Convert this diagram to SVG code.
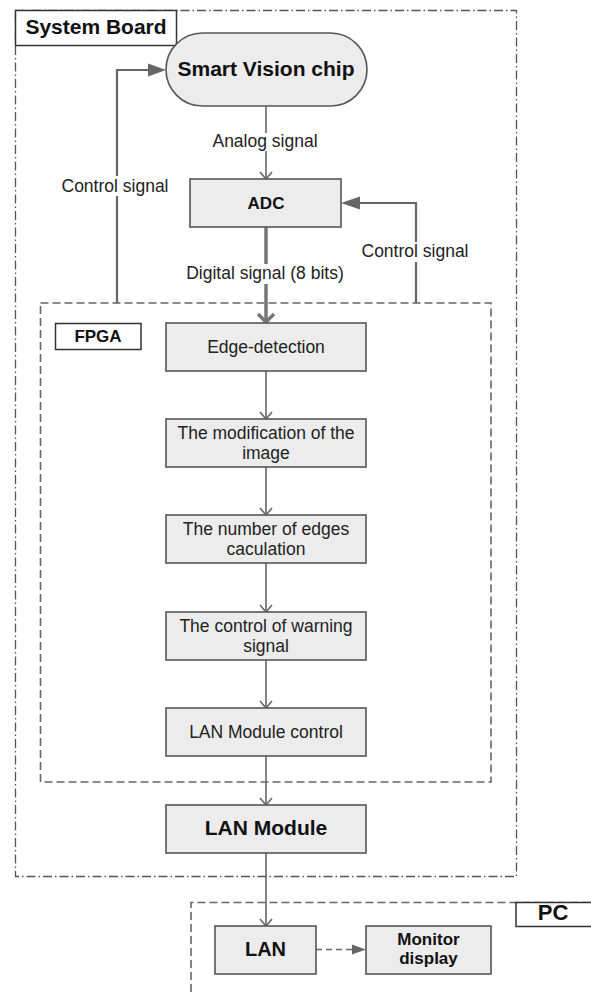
<svg xmlns="http://www.w3.org/2000/svg" width="591" height="992" viewBox="0 0 591 992">
<style>
  .box { fill: #ececec; stroke: #555; stroke-width: 1.6; }
  .lbl { fill: #fff; stroke: #333; stroke-width: 1.5; }
  .t { font-family: "Liberation Sans", Arial, sans-serif; font-size: 17.5px; fill: #222; text-anchor: middle; }
  .b { font-family: "Liberation Sans", Arial, sans-serif; font-weight: bold; fill: #111; text-anchor: middle; }
  .ln { fill: none; stroke: #666; stroke-width: 1.6; }
  .ctl { fill: none; stroke: #666; stroke-width: 2.2; }
  .thick { fill: none; stroke: #777; stroke-width: 3.5; }
  .tri { fill: #666; }
  .dashbox { fill: none; stroke: #666; stroke-width: 1.6; stroke-dasharray: 8 4; }
  .dashdot { fill: none; stroke: #555; stroke-width: 1.3; stroke-dasharray: 9 3 1.5 3; }
  .bg { fill: #fff; }
</style>

<g id="system-board">
  <rect class="dashdot" x="15.5" y="10.5" width="501" height="866"/>
  <rect class="lbl" x="15.5" y="10.5" width="161" height="35"/>
  <text class="b" x="96" y="34" font-size="21">System Board</text>
</g>

<g id="fpga">
  <rect class="dashbox" x="40.5" y="303" width="450.5" height="479"/>
  <rect class="lbl" x="55.5" y="323.5" width="85.5" height="26"/>
  <text class="b" x="98" y="341.5" font-size="17">FPGA</text>
</g>

<g id="pc">
  <path class="dashbox" d="M191 992 L191 902.5 L591 902.5"/>
  <rect class="lbl" x="516" y="902.5" width="76" height="24"/>
  <text class="b" x="553" y="920" font-size="22">PC</text>
</g>

<g id="connectors">
  <!-- chip to ADC -->
  <path class="ln" d="M266 106 L266 179"/>
  <path class="ln" d="M260 172 L266 179 L272 172"/>
  <!-- ADC to edge detection (thick) -->
  <path class="thick" d="M266 227 L266 322"/>
  <path class="thick" d="M258 314 L266 322 L274 314"/>
  <!-- flow chain -->
  <path class="ln" d="M266 371 L266 419"/>
  <path class="ln" d="M260 412 L266 419 L272 412"/>
  <path class="ln" d="M266 467 L266 515"/>
  <path class="ln" d="M260 508 L266 515 L272 508"/>
  <path class="ln" d="M266 563 L266 612"/>
  <path class="ln" d="M260 605 L266 612 L272 605"/>
  <path class="ln" d="M266 660 L266 708"/>
  <path class="ln" d="M260 701 L266 708 L272 701"/>
  <path class="ln" d="M266 756 L266 805"/>
  <path class="ln" d="M260 798 L266 805 L272 798"/>
  <path class="ln" d="M266 853 L266 926"/>
  <path class="ln" d="M260 919 L266 926 L272 919"/>
  <!-- left control signal -->
  <path class="ctl" d="M117 303 L117 70 L150 70"/>
  <path class="tri" d="M166 70 L148 63.5 L148 76.5 Z"/>
  <!-- right control signal -->
  <path class="ctl" d="M416 303 L416 203 L358 203"/>
  <path class="tri" d="M341 203 L360 196.5 L360 209.5 Z"/>
  <!-- LAN to monitor (dashed) -->
  <path class="ln" d="M316 949.5 L353 949.5" stroke-dasharray="6 4"/>
  <path class="tri" d="M366 949.5 L352 944.5 L352 954.5 Z"/>
  <!-- labels on connectors -->
  <rect class="bg" x="211" y="133" width="108" height="18"/>
  <text class="t" x="265" y="147">Analog signal</text>
  <rect class="bg" x="60" y="176" width="110" height="20"/>
  <text class="t" x="115" y="192">Control signal</text>
  <rect class="bg" x="360" y="242" width="110" height="20"/>
  <text class="t" x="415" y="257">Control signal</text>
  <rect class="bg" x="183" y="264" width="164" height="20"/>
  <text class="t" x="265" y="279">Digital signal (8 bits)</text>
</g>

<g id="smart-vision-chip">
  <rect class="box" x="166" y="33" width="201" height="73" rx="36.5" ry="36.5"/>
  <text class="b" x="266" y="76" font-size="21">Smart Vision chip</text>
</g>

<g id="adc">
  <rect class="box" x="190" y="179" width="151" height="48"/>
  <text class="b" x="266" y="208.5" font-size="17">ADC</text>
</g>

<g id="edge-detection">
  <rect class="box" x="166" y="323" width="200" height="48"/>
  <text class="t" x="266" y="353">Edge-detection</text>
</g>

<g id="modification">
  <rect class="box" x="166" y="419" width="200" height="48"/>
  <text class="t" x="266" y="439">The modification of the</text>
  <text class="t" x="266" y="459">image</text>
</g>

<g id="number-of-edges">
  <rect class="box" x="166" y="515" width="200" height="48"/>
  <text class="t" x="266" y="535">The number of edges</text>
  <text class="t" x="266" y="555">caculation</text>
</g>

<g id="warning-control">
  <rect class="box" x="166" y="612" width="200" height="48"/>
  <text class="t" x="266" y="632">The control of warning</text>
  <text class="t" x="266" y="652">signal</text>
</g>

<g id="lan-module-control">
  <rect class="box" x="166" y="708" width="200" height="48"/>
  <text class="t" x="266" y="738">LAN Module control</text>
</g>

<g id="lan-module">
  <rect class="box" x="166" y="805" width="200" height="48"/>
  <text class="b" x="266" y="835" font-size="21">LAN Module</text>
</g>

<g id="lan">
  <rect class="box" x="215" y="926" width="101" height="48"/>
  <text class="b" x="265.5" y="956" font-size="20">LAN</text>
</g>

<g id="monitor-display">
  <rect class="box" x="366" y="926" width="125" height="48"/>
  <text class="b" x="428.5" y="945" font-size="17">Monitor</text>
  <text class="b" x="428.5" y="964" font-size="17">display</text>
</g>
</svg>
